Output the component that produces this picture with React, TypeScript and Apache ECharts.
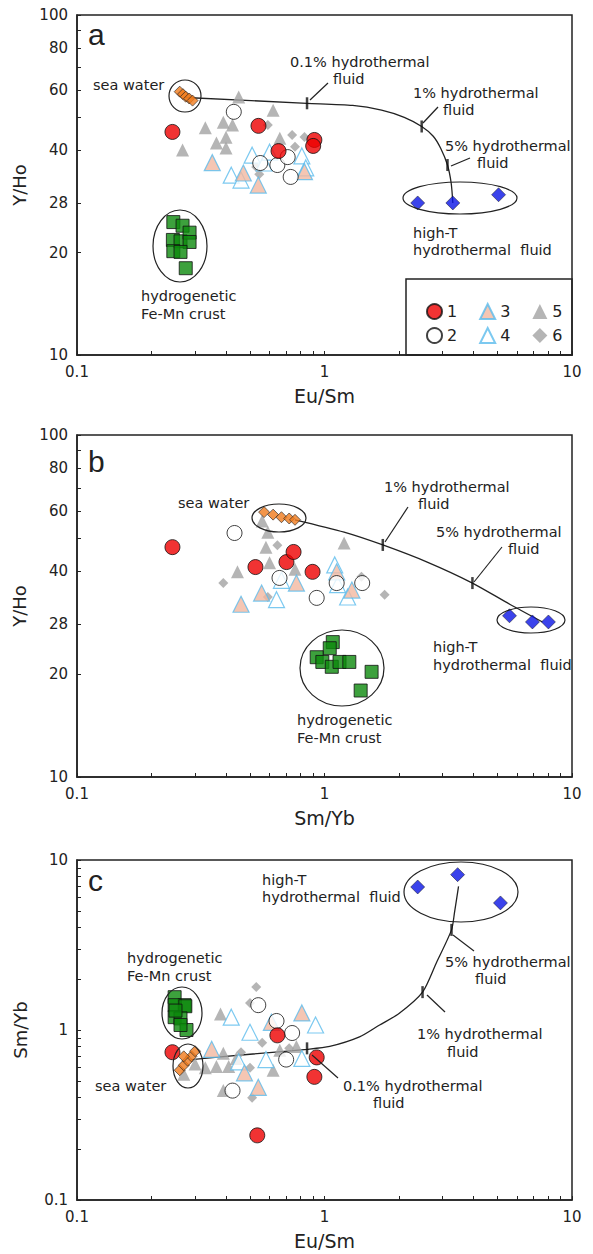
import React, { useEffect, useRef } from "react";
import * as echarts from "echarts";

const FONT = '"DejaVu Sans", "Liberation Sans", Arial, sans-serif';
const FONT_LETTER = '"Liberation Sans", Arial, sans-serif';

// ---------- axis tick / label values ----------
const xTickVals = [0.1, 0.2, 0.3, 0.4, 0.5, 0.6, 0.7, 0.8, 0.9, 1, 2, 3, 4, 5, 6, 7, 8, 9, 10];
const xLabelVals = [0.1, 1, 10];
const yhoTickVals = [10, 20, 28, 40, 50, 60, 70, 80, 90, 100];
const yhoLabelVals = [10, 20, 28, 40, 60, 80, 100];
const smTickVals = [0.1, 0.2, 0.3, 0.4, 0.5, 0.6, 0.7, 0.8, 0.9, 1, 2, 3, 4, 5, 6, 7, 8, 9, 10];
const smLabelVals = [0.1, 1, 10];

// ---------- panel a: Eu/Sm vs Y/Ho ----------
const a1 = [[0.243, 45.3], [0.541, 47.2], [0.652, 39.8], [0.91, 42.9], [0.9, 41.2]];
const a2 = [[0.43, 51.9], [0.55, 36.7], [0.645, 36.2], [0.71, 38.2], [0.73, 33.4]];
const a3 = [[0.352, 36.8], [0.47, 34.3], [0.54, 31.6], [0.83, 34.6]];
const a4 = [[0.42, 33.8], [0.46, 32.7], [0.51, 38.7], [0.57, 36.7], [0.6, 39.5], [0.81, 38.5], [0.84, 35.5]];
const a5 = [[0.267, 40.1], [0.33, 46.6], [0.39, 48.4], [0.45, 57.4], [0.425, 47.5], [0.366, 42], [0.4, 43.7], [0.4, 40.6], [0.62, 52.5], [0.66, 43.4]];
const a6 = [[0.59, 47.5], [0.74, 44.4], [0.83, 43.8], [0.76, 41], [0.53, 35.7], [0.545, 34]];
const aSea = [[0.26, 59.5], [0.268, 58.5], [0.275, 57.5], [0.284, 56.8], [0.293, 56]];
const aHyd = [[0.245, 24.6], [0.267, 24], [0.244, 21.8], [0.262, 21.6], [0.285, 22.9], [0.285, 21.5], [0.245, 20.2], [0.262, 20.1], [0.275, 18]];
const aHT = [[2.38, 28], [3.3, 28], [5.05, 29.6]];
const aMix = [[0.275, 57.2], [0.85, 55], [1.3, 54.2], [1.7, 52.5], [2.1, 50], [2.47, 47], [2.75, 44], [2.95, 40.5], [3.14, 36.2], [3.25, 32], [3.3, 28]];
const aMixTicks = [[0.85, 55], [2.47, 47], [3.14, 36.2]];

// ---------- panel b: Sm/Yb vs Y/Ho ----------
const b1 = [[0.243, 47], [0.526, 41.1], [0.702, 42.5], [0.75, 45.5], [0.895, 39.8]];
const b2 = [[0.433, 51.7], [0.658, 38.2], [0.93, 33.4], [1.12, 36.9], [1.42, 36.9]];
const b3 = [[0.46, 32], [0.557, 34.5], [0.77, 36.9], [1.12, 39.8], [1.29, 35.2]];
const b4 = [[0.64, 33], [0.67, 37.6], [1.1, 41.7], [1.13, 36.5], [1.24, 33.6]];
const b5 = [[0.59, 52], [0.58, 47], [0.6, 42.3], [0.445, 39.8], [1.2, 48.3], [0.56, 56], [0.76, 40.5]];
const b6 = [[0.39, 36.9], [0.645, 47.6], [0.59, 33.6], [1.41, 38.5], [1.75, 34.1]];
const bSea = [[0.57, 59.5], [0.62, 58.5], [0.67, 57.5], [0.72, 57], [0.76, 56.5]];
const bHyd = [[1.08, 24.8], [1.05, 23.8], [0.93, 22.4], [0.98, 21.7], [1.07, 21], [1.15, 21.7], [1.26, 21.7], [1.55, 20.3], [1.4, 17.9]];
const bHT = [[5.59, 29.6], [6.92, 28.4], [8.03, 28.4]];
const bMix = [[0.76, 56.5], [1.2, 52], [1.72, 47.7], [2.6, 42.5], [3.96, 36.9], [5.6, 32], [7.6, 28.4]];
const bMixTicks = [[1.72, 47.7], [3.96, 36.9]];

// ---------- panel c: Eu/Sm vs Sm/Yb ----------
const c1 = [[0.243, 0.74], [0.645, 0.93], [0.93, 0.69], [0.91, 0.53], [0.535, 0.24]];
const c2 = [[0.54, 1.4], [0.64, 1.13], [0.74, 0.96], [0.7, 0.67], [0.425, 0.44]];
const c3 = [[0.35, 0.77], [0.475, 0.56], [0.54, 0.46], [0.61, 1.11], [0.81, 1.26]];
const c4 = [[0.42, 1.19], [0.5, 0.97], [0.92, 1.07], [0.45, 0.65], [0.58, 0.67], [0.81, 0.68]];
const c5 = [[0.27, 0.55], [0.3, 0.63], [0.33, 0.6], [0.366, 0.61], [0.39, 0.73], [0.41, 0.61], [0.44, 0.68], [0.38, 1.24], [0.39, 0.44], [0.62, 0.58], [0.66, 0.76], [0.77, 0.8]];
const c6 = [[0.53, 1.79], [0.5, 1.44], [0.5, 0.6], [0.51, 0.4], [0.46, 0.74], [0.56, 0.84], [0.72, 0.78]];
const cSea = [[0.26, 0.58], [0.27, 0.62], [0.28, 0.66], [0.29, 0.7], [0.3, 0.75], [0.27, 0.7]];
const cHyd = [[0.248, 1.56], [0.272, 1.4], [0.248, 1.4], [0.274, 1.38], [0.248, 1.19], [0.262, 1.17], [0.277, 1.0], [0.262, 1.07], [0.25, 1.3]];
const cHT = [[2.38, 6.94], [3.45, 8.2], [5.14, 5.59]];
const cMix = [[0.29, 0.67], [0.5, 0.72], [0.85, 0.77], [1.05, 0.8], [1.385, 0.91], [1.67, 1.07], [2.0, 1.25], [2.49, 1.67], [2.83, 2.48], [3.26, 3.88], [3.35, 4.88], [3.48, 7.0]];
const cMixTicks = [[0.85, 0.78], [2.49, 1.67], [3.26, 3.88]];

const fmt = (v: number) => String(Math.round(v * 1000) / 1000);

const STYLES: Record<string, any> = {
  "1": { symbol: "circle", symbolSize: 15, itemStyle: { color: "#ee0000", borderColor: "#111", borderWidth: 1 } },
  "2": { symbol: "circle", symbolSize: 15, itemStyle: { color: "#ffffff", borderColor: "#111", borderWidth: 1 } },
  "3": { symbol: "triangle", symbolSize: 16, itemStyle: { color: "#f2b8a0", borderColor: "#5bbcec", borderWidth: 1.2 } },
  "4": { symbol: "triangle", symbolSize: 16, itemStyle: { color: "#ffffff", borderColor: "#5bbcec", borderWidth: 1.2 } },
  "5": { symbol: "triangle", symbolSize: 13, itemStyle: { color: "#a2a2a2" } },
  "6": { symbol: "diamond", symbolSize: 10, itemStyle: { color: "#a2a2a2" } },
  sea: { symbol: "diamond", symbolSize: 11, itemStyle: { color: "#f07a1c", borderColor: "#222", borderWidth: 0.8 } },
  hyd: { symbol: "rect", symbolSize: 13, itemStyle: { color: "#0c8a0c", borderColor: "#111", borderWidth: 1 } },
  ht: { symbol: "diamond", symbolSize: 14, itemStyle: { color: "#0a14e6", borderColor: "#111", borderWidth: 0.6 } },
};

function scatter(name: string, key: string, data: number[][], idx: number) {
  return { type: "scatter", name, xAxisIndex: idx, yAxisIndex: idx, data, ...STYLES[key], z: 3 };
}
function mixLine(data: number[][], idx: number) {
  return {
    type: "line", name: "mix" + idx, xAxisIndex: idx, yAxisIndex: idx, data, showSymbol: false, symbol: "none",
    smooth: 0.25, lineStyle: { color: "#222", width: 1.3 }, z: 2, silent: true,
  };
}
function mixTicks(data: number[][], idx: number) {
  return {
    type: "scatter", name: "ticks" + idx, xAxisIndex: idx, yAxisIndex: idx, data, symbol: "rect",
    symbolSize: [2.5, 12], itemStyle: { color: "#111" }, z: 4,
  };
}

function xAxis(idx: number, name: string) {
  return {
    type: "log", logBase: 10, gridIndex: idx, min: 0.1, max: 10,
    axisLine: { show: true, lineStyle: { color: "#222", width: 1.5 } },
    axisTick: { show: true, inside: true, length: 4, customValues: xTickVals, lineStyle: { color: "#222", width: 1 } },
    axisLabel: { customValues: xLabelVals, formatter: fmt, fontSize: 15, color: "#222", fontFamily: FONT, margin: 9 },
    splitLine: { show: false }, minorTick: { show: false },
    name, nameLocation: "middle", nameGap: 31, nameTextStyle: { fontSize: 19, color: "#222", fontFamily: FONT },
  };
}
function yAxis(idx: number, name: string, min: number, max: number, ticks: number[], labels: number[]) {
  return {
    type: "log", logBase: 10, gridIndex: idx, min, max,
    axisLine: { show: true, lineStyle: { color: "#222", width: 1.5 } },
    axisTick: { show: true, inside: true, length: 4, customValues: ticks, lineStyle: { color: "#222", width: 1 } },
    axisLabel: { customValues: labels, formatter: fmt, fontSize: 15, color: "#222", fontFamily: FONT, margin: 9 },
    splitLine: { show: false }, minorTick: { show: false },
    name, nameLocation: "middle", nameGap: 48, nameRotate: 90,
    nameTextStyle: { fontSize: 18, color: "#222", fontFamily: FONT },
  };
}

const T = (text: string, x: number, y: number, size = 14.5, family = FONT) => ({
  type: "text", x, y, z: 50,
  style: { text, fill: "#222", fontSize: size, fontFamily: family, align: "left", verticalAlign: "middle" },
});
const E = (cx: number, cy: number, rx: number, ry: number) => ({
  type: "ellipse", z: 50, shape: { cx, cy, rx, ry }, style: { fill: "none", stroke: "#222", lineWidth: 1.2 },
});
const L = (x1: number, y1: number, x2: number, y2: number) => ({
  type: "line", z: 50, shape: { x1, y1, x2, y2 }, style: { stroke: "#222", lineWidth: 1.2 },
});

export default function App() {
  const ref = useRef<HTMLDivElement>(null);
  useEffect(() => {
    const chart = echarts.init(ref.current!, null, { renderer: "svg" });
    const gridBase = { left: 77, width: 495, show: true, borderColor: "#222", borderWidth: 1.5, backgroundColor: "transparent" };
    const legendBase = {
      left: 421, itemWidth: 15, itemHeight: 15, itemGap: 22, selectedMode: false, z: 10,
      textStyle: { fontSize: 16, color: "#222", fontFamily: FONT },
    };
    const option: any = {
      animation: false,
      textStyle: { fontFamily: FONT },
      grid: [
        { ...gridBase, top: 15, height: 340 },
        { ...gridBase, top: 435, height: 342 },
        { ...gridBase, top: 860, height: 340 },
      ],
      xAxis: [xAxis(0, "Eu/Sm"), xAxis(1, "Sm/Yb"), xAxis(2, "Eu/Sm")],
      yAxis: [
        yAxis(0, "Y/Ho", 10, 100, yhoTickVals, yhoLabelVals),
        yAxis(1, "Y/Ho", 10, 100, yhoTickVals, yhoLabelVals),
        yAxis(2, "Sm/Yb", 0.1, 10, smTickVals, smLabelVals),
      ],
      legend: [
        { ...legendBase, data: ["1", "3", "5"], top: 298 },
        { ...legendBase, data: ["2", "4", "6"], top: 322 },
      ],
      series: [
        mixLine(aMix, 0), mixLine(bMix, 1), mixLine(cMix, 2),
        scatter("5", "5", a5, 0), scatter("6", "6", a6, 0), scatter("4", "4", a4, 0), scatter("3", "3", a3, 0),
        scatter("2", "2", a2, 0), scatter("1", "1", a1, 0),
        scatter("sea water a", "sea", aSea, 0), scatter("hydrogenetic a", "hyd", aHyd, 0), scatter("high-T a", "ht", aHT, 0),
        scatter("5", "5", b5, 1), scatter("6", "6", b6, 1), scatter("4", "4", b4, 1), scatter("3", "3", b3, 1),
        scatter("2", "2", b2, 1), scatter("1", "1", b1, 1),
        scatter("sea water b", "sea", bSea, 1), scatter("hydrogenetic b", "hyd", bHyd, 1), scatter("high-T b", "ht", bHT, 1),
        scatter("5", "5", c5, 2), scatter("6", "6", c6, 2), scatter("4", "4", c4, 2), scatter("3", "3", c3, 2),
        scatter("2", "2", c2, 2), scatter("1", "1", c1, 2),
        scatter("sea water c", "sea", cSea, 2), scatter("hydrogenetic c", "hyd", cHyd, 2), scatter("high-T c", "ht", cHT, 2),
        mixTicks(aMixTicks, 0), mixTicks(bMixTicks, 1), mixTicks(cMixTicks, 2),
      ],
      graphic: {
        elements: [
          // panel a
          T("a", 88, 34, 30, FONT_LETTER),
          T("sea water", 93, 85), E(185, 96, 16, 16),
          T("0.1% hydrothermal", 290, 62), T("fluid", 333, 79), L(328, 83, 310, 100),
          T("1% hydrothermal", 413, 93), T("fluid", 443, 110), L(438, 107, 423, 123),
          T("5% hydrothermal", 445, 146), T("fluid", 477, 163), L(470, 158, 451, 166),
          E(460, 198, 57, 16),
          T("high-T", 413, 233), T("hydrothermal  fluid", 413, 250),
          E(180, 246, 27, 36),
          T("hydrogenetic", 141, 296), T("Fe-Mn crust", 141, 314),
          { type: "rect", z: 1, shape: { x: 406, y: 279, width: 166, height: 76 }, style: { fill: "none", stroke: "#222", lineWidth: 1.5 } },
          // panel b
          T("b", 88, 461, 30, FONT_LETTER),
          T("sea water", 178, 503), E(279, 518, 27, 14),
          T("1% hydrothermal", 384, 487), T("fluid", 418, 504), L(408, 507, 385, 542),
          T("5% hydrothermal", 436, 532), T("fluid", 508, 549), L(502, 547, 474, 582),
          E(531, 620, 34, 13),
          T("high-T", 433, 647), T("hydrothermal  fluid", 433, 665),
          E(342, 668, 42, 38),
          T("hydrogenetic", 297, 720), T("Fe-Mn crust", 297, 738),
          // panel c
          T("c", 88, 880, 30, FONT_LETTER),
          T("high-T", 262, 880), T("hydrothermal  fluid", 262, 897),
          E(461, 892, 57, 30),
          T("5% hydrothermal", 445, 962), T("fluid", 475, 979), L(453, 935, 474, 951),
          T("1% hydrothermal", 417, 1034), T("fluid", 447, 1052), L(427, 995, 445, 1012),
          T("0.1% hydrothermal", 343, 1086), T("fluid", 373, 1103), L(312, 1055, 338, 1078),
          T("hydrogenetic", 127, 958), T("Fe-Mn crust", 127, 976),
          E(182, 1013, 20, 26),
          E(188, 1066, 15, 22),
          T("sea water", 95, 1086),
        ],
      },
    };
    chart.setOption(option);
    return () => chart.dispose();
  }, []);
  return <div ref={ref} style={{ position: "absolute", left: 0, top: 0, width: 593, height: 1254 }} />;
}
